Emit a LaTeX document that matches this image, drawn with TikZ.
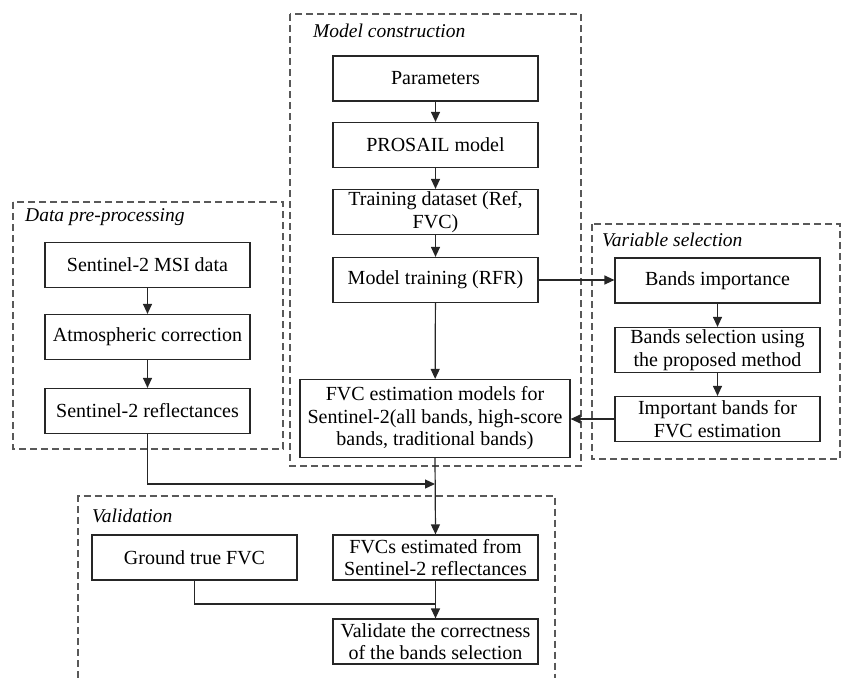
\documentclass[tikz,border=0pt]{standalone}
\usepackage{fontspec}
\setmainfont{Liberation Serif}
\usetikzlibrary{arrows.meta}
\tikzset{
  box/.style={draw=black!85, line width=1.2pt, minimum width=205pt, minimum height=45pt, inner sep=0pt, align=center, font=\fontsize{20}{22.5}\selectfont},
  group/.style={draw=black!65, line width=1.3pt, dash pattern=on 7pt off 4pt},
  glabel/.style={anchor=west, inner sep=0pt, font=\fontsize{19.5}{22}\selectfont\itshape},
  arr/.style={draw=black!85, line width=1.2pt, -{Triangle[length=10pt,width=9pt]}},
  ln/.style={draw=black!85, line width=1.2pt}
}
\begin{document}
\begin{tikzpicture}[x=1pt,y=-1pt]
\useasboundingbox (0,0) rectangle (842,677);
% group frames
\draw[group] (290,14) rectangle (581,466);
\draw[group] (13,202) rectangle (283,449);
\draw[group] (592,224) rectangle (840,459);
\draw[group] (78,677.5) -- (78,496) -- (555,496) -- (555,677.5);
\node[glabel] (lmc) at (313,31) {Model construction};
\node[glabel] (ldp) at (25,217) {Data pre-processing};
\node[glabel] (lvs) at (602,240) {Variable selection};
\node[glabel] (lva) at (92,516) {Validation};
% model construction
\node[box] (par) at (435.5,78.5) {Parameters};
\node[box] (pro) at (435.5,145) {PROSAIL model};
\node[box] (tds) at (435.5,212) {Training dataset (Ref,\\FVC)};
\node[box] (mt) at (435.5,280) {Model training (RFR)};
\node[box, minimum width=270pt, minimum height=78pt] (fvc) at (435,418.5) {FVC estimation models for\\Sentinel-2(all bands, high-score\\bands, traditional bands)};
% data pre-processing
\node[box] (msi) at (147.5,265) {Sentinel-2 MSI data};
\node[box] (atm) at (147.5,337) {Atmospheric correction};
\node[box] (ref) at (147.5,411) {Sentinel-2 reflectances};
% variable selection
\node[box] (bi) at (717.5,280.5) {Bands importance};
\node[box] (bs) at (717.5,350) {Bands selection using\\the proposed method};
\node[box] (ib) at (717.5,419) {Important bands for\\FVC estimation};
% validation
\node[box] (gt) at (194.5,557.5) {Ground true FVC};
\node[box] (fve) at (435.5,557.5) {FVCs estimated from\\Sentinel-2 reflectances};
\node[box] (val) at (435.5,641.5) {Validate the correctness\\of the bands selection};
% connectors
\coordinate (j1) at (435,484);
\coordinate (j2) at (435.5,604);
\draw[arr] (par) -- (pro);
\draw[arr] (pro) -- (tds);
\draw[arr] (tds) -- (mt);
\draw[arr] (mt) -- (fvc);
\draw[arr] (mt.east) -- (bi.west |- mt.east);
\draw[arr] (bi) -- (bs);
\draw[arr] (bs) -- (ib);
\draw[arr] (ib.west) -- (fvc.east |- ib.west);
\draw[arr] (msi) -- (atm);
\draw[arr] (atm) -- (ref);
\draw[arr] (ref.south) |- (j1);
\draw[arr] (fvc.south) -- (fve.north);
\draw[arr] (fve) -- (val);
\draw[ln] (gt.south) |- (j2);
\end{tikzpicture}
\end{document}
